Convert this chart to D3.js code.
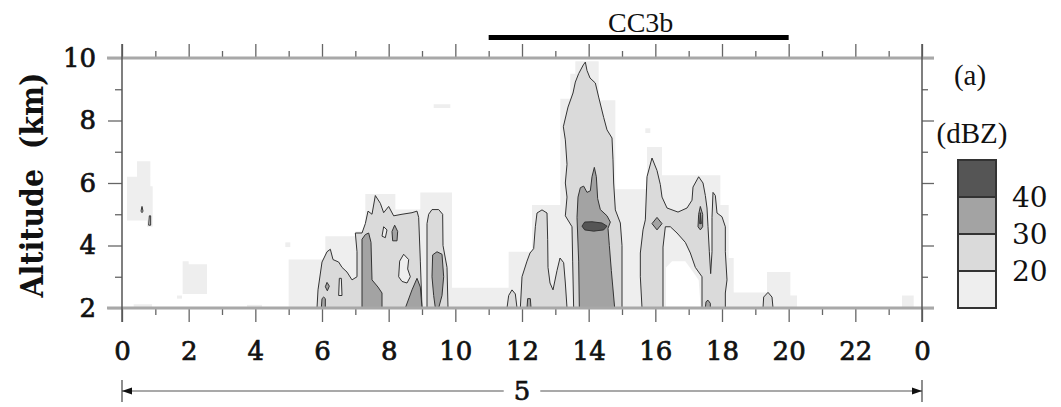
<!DOCTYPE html>
<html>
<head>
<meta charset="utf-8">
<script src="https://cdn.jsdelivr.net/npm/d3@7"></script>
<style>
  body { margin: 0; background: #fff; }
  .num { font-family: "DejaVu Serif", serif; font-size: 26px; fill: #111; }
  .tick text { font-family: "DejaVu Serif", serif; font-size: 26px; fill: #111; stroke: #111; stroke-width: 0.7px; }
  .tick line { stroke: #666; stroke-width: 1.3; }
  .serif { font-family: "Liberation Serif", "Times New Roman", serif; fill: #111; }
</style>
</head>
<body>
<div id="chart"></div>
<script>
// Axis values
var hourTicks = [0, 2, 4, 6, 8, 10, 12, 14, 16, 18, 20, 22, 24];
var hourLabels = ["0", "2", "4", "6", "8", "10", "12", "14", "16", "18", "20", "22", "0"];
var hourMinor = [1, 3, 5, 7, 9, 11, 13, 15, 17, 19, 21, 23];
var altTicks = [2, 4, 6, 8, 10];
var altMinor = [3, 5, 7, 9];

// Annotations
var periodSpan = [11, 20];
var periodLabel = "CC3b";
var daySpan = [0, 24];
var dayLabel = "5";

// Legend
var dbzLevels = [40, 30, 20];
var dbzColors = ["#555555", "#a3a3a3", "#dadada", "#eeeeee"]; // >40, 30-40, 20-30, <20

// Echo regions [hour, km]
var echoBelow20 = [
    [[0.15, 4.8], [0.15, 6.2], [0.45, 6.2], [0.45, 6.7], [0.85, 6.7], [0.85, 5.9], [0.92, 5.9], [0.92, 4.6], [0.75, 4.6], [0.75, 4.8]],
    [[0.35, 2.0], [0.35, 2.12], [0.9, 2.12], [0.9, 2.0]],
    [[1.65, 2.3], [1.65, 2.4], [1.8, 2.4], [1.8, 2.3]],
    [[1.82, 2.45], [1.82, 3.5], [2.0, 3.5], [2.0, 3.4], [2.55, 3.4], [2.55, 2.45]],
    [[3.75, 2.0], [3.75, 2.1], [4.2, 2.1], [4.2, 2.0]],
    [[4.9, 3.95], [4.9, 4.1], [5.05, 4.1], [5.05, 3.95]],
    [[9.35, 8.4], [9.35, 8.52], [9.85, 8.52], [9.85, 8.4]],
    [[15.7, 7.6], [15.7, 7.75], [15.85, 7.75], [15.85, 7.6]],
    [[23.4, 2.0], [23.4, 2.4], [23.75, 2.4], [23.75, 2.0]],
    [[5.0, 2.0], [5.0, 3.55], [6.1, 3.55], [6.1, 4.3], [7.0, 4.3], [7.0, 4.45], [7.3, 4.45], [7.3, 5.65],
     [8.2, 5.65], [8.2, 5.15], [8.95, 5.15], [8.95, 5.7], [9.9, 5.7], [9.9, 2.65], [11.6, 2.65], [11.6, 3.8],
     [12.3, 3.8], [12.3, 5.3], [13.15, 5.3], [13.15, 8.7], [13.45, 8.7], [13.45, 9.5], [13.6, 9.5], [13.6, 9.9],
     [14.3, 9.9], [14.3, 8.65], [14.8, 8.65], [14.8, 5.8], [15.75, 5.8], [15.75, 7.15], [16.2, 7.15], [16.2, 6.25],
     [17.95, 6.25], [17.95, 5.3], [18.2, 5.3], [18.2, 3.6], [18.35, 3.6], [18.35, 2.5], [19.35, 2.5], [19.35, 3.15],
     [20.05, 3.15], [20.05, 2.4], [20.25, 2.4], [20.25, 2.0]]
];

var noEcho = [
    [[16.32, 2.0], [16.32, 3.3], [16.5, 3.5], [16.9, 3.5], [17.1, 3.2], [17.3, 2.9], [17.36, 2.0]]
];

var echo20 = [
    [[0.57, 5.1], [0.6, 5.25], [0.63, 5.1], [0.6, 5.05]],
    [[0.8, 4.65], [0.82, 4.95], [0.86, 4.95], [0.86, 4.65]],
    [[5.85, 2.0], [5.88, 2.58], [6.0, 3.47], [6.15, 3.8], [6.25, 3.88], [6.33, 3.55], [6.5, 3.47], [6.6, 3.3],
     [6.75, 3.15], [6.9, 2.9], [7.05, 3.0], [7.05, 3.8], [7.0, 4.4], [7.2, 4.4], [7.3, 4.7], [7.38, 5.1],
     [7.5, 5.0], [7.6, 5.6], [7.75, 5.35], [7.85, 5.05], [8.0, 5.25], [8.15, 4.95], [8.4, 5.0], [8.7, 5.05],
     [8.85, 5.1], [8.9, 4.9], [8.95, 3.5], [9.0, 2.0]],
    [[9.15, 2.0], [9.15, 4.7], [9.2, 5.0], [9.3, 5.15], [9.5, 5.15], [9.62, 5.0], [9.63, 4.0], [9.75, 3.3], [9.78, 2.0]],
    [[11.55, 2.0], [11.6, 2.4], [11.7, 2.58], [11.8, 2.45], [11.85, 2.0]],
    [[11.95, 2.0], [12.0, 3.0], [12.15, 3.5], [12.24, 3.76], [12.35, 3.9], [12.4, 4.6], [12.45, 5.04], [12.6, 5.14],
     [12.75, 5.04], [12.77, 4.2], [12.78, 3.3], [12.84, 2.8], [12.93, 2.58], [13.05, 3.2], [13.14, 3.6],
     [13.25, 3.45], [13.3, 2.8], [13.35, 2.0]],
    [[13.55, 2.0], [13.52, 3.5], [13.5, 4.6], [13.3, 4.95], [13.35, 5.55], [13.3, 6.0], [13.35, 6.6], [13.3, 7.38],
     [13.24, 7.8], [13.38, 8.43], [13.53, 8.88], [13.6, 9.23], [13.7, 9.5], [13.84, 9.78], [13.9, 9.87],
     [13.95, 9.6], [14.04, 9.36], [14.2, 9.2], [14.3, 8.75], [14.45, 8.1], [14.55, 7.7], [14.7, 7.44],
     [14.73, 6.74], [14.75, 6.0], [14.8, 5.14], [14.95, 4.72], [15.0, 4.0], [15.0, 2.0]],
    [[15.6, 2.0], [15.55, 3.0], [15.55, 3.76], [15.63, 4.5], [15.7, 4.82], [15.75, 6.2], [15.9, 6.8], [16.05, 6.4],
     [16.15, 5.95], [16.2, 5.55], [16.35, 5.2], [16.68, 5.07], [16.95, 5.2], [17.1, 5.45], [17.13, 5.87],
     [17.3, 6.2], [17.43, 6.0], [17.5, 5.6], [17.55, 5.2], [17.58, 4.6], [17.62, 3.8], [17.66, 3.1], [17.7, 3.8],
     [17.7, 4.9], [17.73, 5.7], [17.8, 5.6], [17.85, 5.04], [18.0, 4.92], [18.1, 4.6], [18.1, 3.8], [18.15, 2.9],
     [18.1, 2.48], [18.1, 2.0], [17.4, 2.0], [17.4, 3.0], [17.2, 3.3], [17.05, 3.76], [16.9, 4.1], [16.65, 4.4],
     [16.45, 4.6], [16.3, 4.6], [16.23, 3.95], [16.23, 2.0]],
    [[19.23, 2.0], [19.25, 2.35], [19.38, 2.5], [19.5, 2.35], [19.53, 2.0]]
];

var echoHoles = [
    [[8.3, 3.0], [8.33, 3.5], [8.45, 3.72], [8.6, 3.55], [8.57, 3.25], [8.65, 3.0], [8.55, 2.8], [8.4, 2.85]],
    [[7.8, 4.3], [7.85, 4.6], [7.95, 4.5], [7.9, 4.25]],
    [[6.5, 2.4], [6.52, 2.95], [6.58, 2.95], [6.6, 2.4]]
];

var echo30 = [
    [[5.98, 2.0], [6.0, 2.3], [6.05, 2.35], [6.1, 2.3], [6.1, 2.0]],
    [[6.1, 2.68], [6.15, 2.82], [6.22, 2.7], [6.16, 2.55]],
    [[7.2, 2.0], [7.2, 4.2], [7.3, 4.35], [7.4, 4.4], [7.47, 4.1], [7.5, 2.9], [7.68, 2.67], [7.8, 2.48], [7.8, 2.0]],
    [[8.12, 4.15], [8.1, 4.45], [8.18, 4.65], [8.27, 4.45], [8.25, 4.15]],
    [[8.5, 2.0], [8.7, 2.58], [8.85, 2.95], [8.95, 2.67], [9.0, 2.0]],
    [[9.3, 3.0], [9.32, 3.7], [9.45, 3.8], [9.6, 3.72], [9.65, 3.0], [9.6, 2.4], [9.5, 2.0], [9.4, 2.0], [9.35, 2.4]],
    [[12.15, 2.0], [12.17, 2.3], [12.25, 2.3], [12.27, 2.0]],
    [[13.72, 2.0], [13.7, 3.5], [13.65, 4.9], [13.68, 5.55], [13.75, 5.85], [13.85, 5.9], [13.95, 5.7], [14.05, 5.75],
     [14.1, 6.2], [14.17, 6.5], [14.23, 6.2], [14.27, 5.5], [14.35, 5.15], [14.55, 4.95], [14.65, 4.75],
     [14.58, 4.55], [14.62, 4.0], [14.68, 3.2], [14.78, 2.0]],
    [[15.9, 4.7], [16.05, 4.9], [16.2, 4.7], [16.05, 4.5]],
    [[17.28, 4.6], [17.3, 5.0], [17.35, 5.25], [17.42, 5.0], [17.42, 4.6], [17.35, 4.5]],
    [[17.5, 2.0], [17.52, 2.2], [17.58, 2.25], [17.65, 2.15], [17.65, 2.0]]
];

var echo40 = [
    [[13.8, 4.62], [13.88, 4.75], [14.1, 4.76], [14.4, 4.72], [14.55, 4.62], [14.45, 4.5], [14.15, 4.46], [13.88, 4.5]],
    [[17.33, 4.7], [17.35, 5.05], [17.38, 4.7]]
];

// Define svg container dimensions
var svgWidth = 1061;
var svgHeight = 407;

var margin = {
    top: 58,
    bottom: 99,
    left: 122,
    right: 139
};

var width = svgWidth - margin.left - margin.right;
var height = svgHeight - margin.top - margin.bottom;

var svg = d3.select("#chart")
    .append("svg")
    .attr("width", svgWidth)
    .attr("height", svgHeight);

var chartGroup = svg.append("g")
    .attr("transform", `translate(${margin.left}, ${margin.top})`);

var x = d3.scaleLinear().domain([0, 24]).range([0, width]);
var y = d3.scaleLinear().domain([2, 10]).range([height, 0]);

chartGroup.append("clipPath")
    .attr("id", "plotClip")
    .append("rect")
    .attr("width", width)
    .attr("height", height);

var plot = chartGroup.append("g").attr("clip-path", "url(#plotClip)");

var area = d3.line()
    .x(d => x(d[0]))
    .y(d => y(d[1]))
    .curve(d3.curveLinearClosed);

// Draw one layer of regions
function drawLayer(regions, fill, outlined) {
    plot.append("g")
        .selectAll("path")
        .data(regions)
        .enter()
        .append("path")
        .attr("d", area)
        .attr("fill", fill)
        .attr("stroke", outlined ? "#333" : "none")
        .attr("stroke-width", 1)
        .attr("stroke-linejoin", "round");
}

drawLayer(echoBelow20, dbzColors[3], false);
drawLayer(noEcho, "#ffffff", false);
drawLayer(echo20, dbzColors[2], true);
drawLayer(echoHoles, dbzColors[3], true);
drawLayer(echo30, dbzColors[1], true);
drawLayer(echo40, dbzColors[0], true);

// Axes
function styleAxis(g) {
    g.select(".domain").remove();
    return g;
}

chartGroup.append("g")
    .attr("transform", `translate(0, ${height})`)
    .call(d3.axisBottom(x).tickValues(hourTicks).tickSize(14).tickPadding(20)
        .tickFormat((d, i) => hourLabels[i]))
    .call(styleAxis);

chartGroup.append("g")
    .attr("transform", `translate(0, ${height})`)
    .call(d3.axisBottom(x).tickValues(hourMinor).tickSize(7).tickFormat(""))
    .call(styleAxis);

chartGroup.append("g")
    .call(d3.axisTop(x).tickValues(hourTicks).tickSize(14).tickFormat(""))
    .call(styleAxis);

chartGroup.append("g")
    .call(d3.axisTop(x).tickValues(hourMinor).tickSize(7).tickFormat(""))
    .call(styleAxis);

chartGroup.append("g")
    .call(d3.axisLeft(y).tickValues(altTicks).tickSize(14).tickPadding(12))
    .call(styleAxis);

chartGroup.append("g")
    .call(d3.axisLeft(y).tickValues(altMinor).tickSize(7).tickFormat(""))
    .call(styleAxis);

chartGroup.append("g")
    .attr("transform", `translate(${width}, 0)`)
    .call(d3.axisRight(y).tickValues(altTicks).tickSize(12).tickFormat(""))
    .call(styleAxis);

chartGroup.append("g")
    .attr("transform", `translate(${width}, 0)`)
    .call(d3.axisRight(y).tickValues(altMinor).tickSize(6).tickFormat(""))
    .call(styleAxis);

// Frame lines
[0, height].forEach(function (yy) {
    chartGroup.append("line")
        .attr("x1", -15).attr("x2", width + 12)
        .attr("y1", yy).attr("y2", yy)
        .attr("stroke", "#a8a8a8")
        .attr("stroke-width", 3);
});

[0, width].forEach(function (xx) {
    chartGroup.append("line")
        .attr("x1", xx).attr("x2", xx)
        .attr("y1", -14).attr("y2", height + 14)
        .attr("stroke", "#555")
        .attr("stroke-width", 1.5);
});

// Y axis title
chartGroup.append("text")
    .attr("transform", `translate(${43 - margin.left}, ${185 - margin.top}) rotate(-90)`)
    .attr("text-anchor", "middle")
    .attr("class", "num")
    .attr("textLength", 225)
    .attr("lengthAdjust", "spacingAndGlyphs")
    .style("font-size", "31px")
    .style("font-weight", "bold")
    .style("white-space", "pre")
    .text("Altitude  (km)");

// CC3b bar
chartGroup.append("line")
    .attr("x1", x(periodSpan[0])).attr("x2", x(periodSpan[1]))
    .attr("y1", -20.5).attr("y2", -20.5)
    .attr("stroke", "#000")
    .attr("stroke-width", 5);

chartGroup.append("text")
    .attr("class", "serif")
    .attr("x", x((periodSpan[0] + periodSpan[1]) / 2) + 2)
    .attr("y", -26)
    .attr("text-anchor", "middle")
    .style("font-size", "28px")
    .text(periodLabel);

// Day span arrow
var arrowY = 333;
var dayGroup = chartGroup.append("g");
var dayText = dayGroup.append("text")
    .attr("class", "num")
    .attr("x", x((daySpan[0] + daySpan[1]) / 2))
    .attr("y", arrowY)
    .attr("dy", "0.36em")
    .attr("text-anchor", "middle")
    .style("stroke", "#111")
    .style("stroke-width", "0.7px")
    .text(dayLabel);
var tb = dayText.node().getBBox();
var gap = 10;

dayGroup.append("line")
    .attr("x1", x(daySpan[0])).attr("x2", tb.x - gap)
    .attr("y1", arrowY).attr("y2", arrowY)
    .attr("stroke", "#555").attr("stroke-width", 1.2);
dayGroup.append("line")
    .attr("x1", tb.x + tb.width + gap).attr("x2", x(daySpan[1]))
    .attr("y1", arrowY).attr("y2", arrowY)
    .attr("stroke", "#555").attr("stroke-width", 1.2);

[daySpan[0], daySpan[1]].forEach(function (h, i) {
    var xx = x(h);
    var dir = i === 0 ? 1 : -1;
    dayGroup.append("line")
        .attr("x1", xx).attr("x2", xx)
        .attr("y1", arrowY - 11).attr("y2", arrowY + 11)
        .attr("stroke", "#444").attr("stroke-width", 1.2);
    dayGroup.append("path")
        .attr("d", `M${xx},${arrowY} L${xx + dir * 10},${arrowY - 3.5} L${xx + dir * 10},${arrowY + 3.5} Z`)
        .attr("fill", "#111");
});

// Legend
var legendX = 958 - margin.left;
var legendW = 38;
var legendY = d3.scaleLinear().domain([0, 4]).range([160 - margin.top, 308 - margin.top]);

chartGroup.append("text")
    .attr("class", "serif")
    .attr("x", 970 - margin.left)
    .attr("y", 85 - margin.top)
    .attr("text-anchor", "middle")
    .style("font-size", "29px")
    .text("(a)");

chartGroup.append("text")
    .attr("class", "serif")
    .attr("x", 972 - margin.left)
    .attr("y", 143 - margin.top)
    .attr("text-anchor", "middle")
    .style("font-size", "29px")
    .text("(dBZ)");

chartGroup.append("g")
    .selectAll("rect")
    .data(dbzColors)
    .enter()
    .append("rect")
    .attr("x", legendX)
    .attr("y", (d, i) => legendY(i))
    .attr("width", legendW)
    .attr("height", (d, i) => legendY(i + 1) - legendY(i))
    .attr("fill", d => d)
    .attr("stroke", "#333")
    .attr("stroke-width", 2);

chartGroup.append("g")
    .selectAll("text")
    .data(dbzLevels)
    .enter()
    .append("text")
    .attr("class", "num")
    .attr("x", 1012 - margin.left)
    .attr("y", (d, i) => legendY(i + 1))
    .attr("dy", "0.36em")
    .style("font-size", "28px")
    .text(d => d);
</script>
</body>
</html>
